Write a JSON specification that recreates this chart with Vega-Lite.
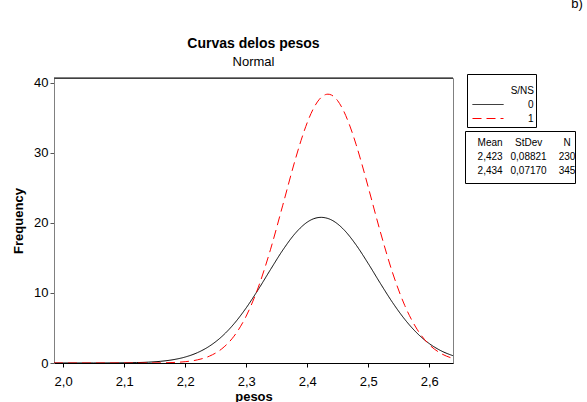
{
  "$schema": "https://vega.github.io/schema/vega-lite/v6.json",
  "padding": {"left": 12, "top": -2, "right": 0, "bottom": 0},
  "title": {"text": "b)", "anchor": "end", "frame": "bounds", "fontSize": 13, "fontWeight": "normal", "offset": 25, "dx": 7, "color": "black"},
  "datasets": {
    "curves": [
      {"SNS": "0", "pesos": 1.985, "Frequency": 0.0001},
      {"SNS": "0", "pesos": 2.0, "Frequency": 0.0002},
      {"SNS": "0", "pesos": 2.05, "Frequency": 0.0027},
      {"SNS": "0", "pesos": 2.1, "Frequency": 0.0255},
      {"SNS": "0", "pesos": 2.12, "Frequency": 0.057},
      {"SNS": "0", "pesos": 2.14, "Frequency": 0.121},
      {"SNS": "0", "pesos": 2.16, "Frequency": 0.244},
      {"SNS": "0", "pesos": 2.18, "Frequency": 0.468},
      {"SNS": "0", "pesos": 2.2, "Frequency": 0.851},
      {"SNS": "0", "pesos": 2.22, "Frequency": 1.473},
      {"SNS": "0", "pesos": 2.24, "Frequency": 2.418},
      {"SNS": "0", "pesos": 2.26, "Frequency": 3.771},
      {"SNS": "0", "pesos": 2.28, "Frequency": 5.591},
      {"SNS": "0", "pesos": 2.3, "Frequency": 7.869},
      {"SNS": "0", "pesos": 2.32, "Frequency": 10.52},
      {"SNS": "0", "pesos": 2.34, "Frequency": 13.36},
      {"SNS": "0", "pesos": 2.36, "Frequency": 16.12},
      {"SNS": "0", "pesos": 2.38, "Frequency": 18.47},
      {"SNS": "0", "pesos": 2.39, "Frequency": 19.39},
      {"SNS": "0", "pesos": 2.4, "Frequency": 20.11},
      {"SNS": "0", "pesos": 2.41, "Frequency": 20.58},
      {"SNS": "0", "pesos": 2.423, "Frequency": 20.8},
      {"SNS": "0", "pesos": 2.43, "Frequency": 20.73},
      {"SNS": "0", "pesos": 2.44, "Frequency": 20.42},
      {"SNS": "0", "pesos": 2.45, "Frequency": 19.85},
      {"SNS": "0", "pesos": 2.46, "Frequency": 19.05},
      {"SNS": "0", "pesos": 2.48, "Frequency": 16.88},
      {"SNS": "0", "pesos": 2.5, "Frequency": 14.21},
      {"SNS": "0", "pesos": 2.52, "Frequency": 11.36},
      {"SNS": "0", "pesos": 2.54, "Frequency": 8.63},
      {"SNS": "0", "pesos": 2.56, "Frequency": 6.23},
      {"SNS": "0", "pesos": 2.58, "Frequency": 4.27},
      {"SNS": "0", "pesos": 2.6, "Frequency": 2.78},
      {"SNS": "0", "pesos": 2.62, "Frequency": 1.72},
      {"SNS": "0", "pesos": 2.64, "Frequency": 1.01},
      {"SNS": "1", "pesos": 1.985, "Frequency": 0.0},
      {"SNS": "1", "pesos": 2.05, "Frequency": 0.0},
      {"SNS": "1", "pesos": 2.1, "Frequency": 0.0007},
      {"SNS": "1", "pesos": 2.14, "Frequency": 0.0086},
      {"SNS": "1", "pesos": 2.16, "Frequency": 0.026},
      {"SNS": "1", "pesos": 2.18, "Frequency": 0.072},
      {"SNS": "1", "pesos": 2.2, "Frequency": 0.187},
      {"SNS": "1", "pesos": 2.22, "Frequency": 0.447},
      {"SNS": "1", "pesos": 2.24, "Frequency": 0.987},
      {"SNS": "1", "pesos": 2.26, "Frequency": 2.02},
      {"SNS": "1", "pesos": 2.28, "Frequency": 3.824},
      {"SNS": "1", "pesos": 2.3, "Frequency": 6.696},
      {"SNS": "1", "pesos": 2.32, "Frequency": 10.85},
      {"SNS": "1", "pesos": 2.34, "Frequency": 16.25},
      {"SNS": "1", "pesos": 2.36, "Frequency": 22.54},
      {"SNS": "1", "pesos": 2.38, "Frequency": 28.91},
      {"SNS": "1", "pesos": 2.39, "Frequency": 31.8},
      {"SNS": "1", "pesos": 2.4, "Frequency": 34.31},
      {"SNS": "1", "pesos": 2.41, "Frequency": 36.3},
      {"SNS": "1", "pesos": 2.42, "Frequency": 37.66},
      {"SNS": "1", "pesos": 2.43, "Frequency": 38.33},
      {"SNS": "1", "pesos": 2.434, "Frequency": 38.39},
      {"SNS": "1", "pesos": 2.44, "Frequency": 38.26},
      {"SNS": "1", "pesos": 2.45, "Frequency": 37.45},
      {"SNS": "1", "pesos": 2.46, "Frequency": 35.95},
      {"SNS": "1", "pesos": 2.47, "Frequency": 33.84},
      {"SNS": "1", "pesos": 2.48, "Frequency": 31.25},
      {"SNS": "1", "pesos": 2.49, "Frequency": 28.3},
      {"SNS": "1", "pesos": 2.5, "Frequency": 25.13},
      {"SNS": "1", "pesos": 2.52, "Frequency": 18.7},
      {"SNS": "1", "pesos": 2.54, "Frequency": 12.87},
      {"SNS": "1", "pesos": 2.56, "Frequency": 8.2},
      {"SNS": "1", "pesos": 2.58, "Frequency": 4.83},
      {"SNS": "1", "pesos": 2.6, "Frequency": 2.63},
      {"SNS": "1", "pesos": 2.62, "Frequency": 1.33},
      {"SNS": "1", "pesos": 2.64, "Frequency": 0.62}
    ],
    "stats": [
      {"SNS": "0", "Mean": 2.423, "StDev": 0.08821, "N": 230},
      {"SNS": "1", "Mean": 2.434, "StDev": 0.0717, "N": 345}
    ]
  },
  "hconcat": [
    {
      "width": 399,
      "height": 285,
      "title": {"text": "Curvas delos pesos", "subtitle": "Normal", "anchor": "middle", "fontSize": 14, "fontWeight": "bold", "subtitleFontSize": 13, "subtitlePadding": 5, "offset": 8, "color": "black", "subtitleColor": "black", "subtitleFont": "Liberation Sans"},
      "view": {"stroke": "#808080"},
      "layer": [
        {
          "data": {"name": "curves"},
          "mark": {"type": "line", "interpolate": "monotone", "strokeWidth": 1, "clip": true},
          "encoding": {
            "x": {"field": "pesos", "type": "quantitative", "scale": {"domain": [1.985, 2.639], "nice": false, "zero": false},
                  "axis": {"title": "pesos", "values": [2.0, 2.1, 2.2, 2.3, 2.4, 2.5, 2.6], "format": ".1f", "labelExpr": "replace(format(datum.value, '.1f'), '.', ',')", "tickSize": 4, "labelPadding": 8, "titlePadding": 2, "domainColor": "black", "tickColor": "black", "labelFlush": false}},
            "y": {"field": "Frequency", "type": "quantitative", "scale": {"domain": [0, 40.7], "nice": false},
                  "axis": {"title": "Frequency", "values": [0, 10, 20, 30, 40], "tickSize": 4, "labelPadding": 2, "titlePadding": 8, "domainColor": "#808080", "tickColor": "#555555", "labelFlush": false}},
            "color": {"field": "SNS", "type": "nominal", "scale": {"domain": ["0", "1"], "range": ["#000000", "#ff0000"]},
                      "legend": {"title": ["", "S/NS"], "orient": "none", "legendX": 413, "legendY": -4}},
            "strokeDash": {"field": "SNS", "type": "nominal", "scale": {"domain": ["0", "1"], "range": [[1, 0], [9, 5]]},
                      "legend": {"title": ["", "S/NS"], "orient": "none", "legendX": 413, "legendY": -4}}
          }
        },
        {
          "data": {"values": [{}]},
          "mark": {"type": "rule", "color": "black", "strokeWidth": 1},
          "encoding": {"y": {"datum": 40.7, "type": "quantitative"}}
        }
      ]
    },
    {
      "spacing": 0,
      "vconcat": [
        {"width": 110, "height": 52, "view": {"stroke": null}, "data": {"values": []}, "mark": "point"},
        {
          "width": 110,
          "height": 52,
          "view": {"stroke": "black"},
          "layer": [
            {
              "data": {"values": [{"col": "Mean"}, {"col": "StDev"}, {"col": "N"}]},
              "mark": {"type": "text", "fontSize": 10, "baseline": "middle", "color": "black"},
              "encoding": {
                "x": {"field": "col", "type": "nominal", "scale": {"type": "point", "domain": ["Mean", "StDev", "N"], "padding": 0.4286, "align": 0.76}, "axis": null},
                "y": {"datum": "h", "type": "nominal", "scale": {"type": "point", "domain": ["h", "0", "1"], "padding": 0.9}, "axis": null},
                "text": {"field": "col"}
              }
            },
            {
              "data": {"name": "stats"},
              "mark": {"type": "text", "fontSize": 10, "baseline": "middle", "color": "black"},
              "encoding": {
                "x": {"datum": "Mean", "type": "nominal"},
                "y": {"field": "SNS", "type": "nominal"},
                "text": {"field": "Mean", "type": "quantitative", "format": ".3f"}
              }
            },
            {
              "data": {"name": "stats"},
              "mark": {"type": "text", "fontSize": 10, "baseline": "middle", "color": "black"},
              "encoding": {
                "x": {"datum": "StDev", "type": "nominal"},
                "y": {"field": "SNS", "type": "nominal"},
                "text": {"field": "StDev", "type": "quantitative", "format": ".5f"}
              }
            },
            {
              "data": {"name": "stats"},
              "mark": {"type": "text", "fontSize": 10, "baseline": "middle", "color": "black"},
              "encoding": {
                "x": {"datum": "N", "type": "nominal"},
                "y": {"field": "SNS", "type": "nominal"},
                "text": {"field": "N", "type": "quantitative", "format": "d"}
              }
            }
          ]
        }
      ]
    }
  ],
  "spacing": 12,
  "bounds": "flush",
  "config": {
    "font": "Liberation Sans",
    "locale": {"number": {"decimal": ",", "thousands": ".", "grouping": [3], "currency": ["", " €"]}},
    "axis": {"grid": false, "labelFontSize": 13, "titleFontSize": 13, "titleFontWeight": "bold", "labelColor": "black", "titleColor": "black"},
    "legend": {
      "strokeColor": "black", "fillColor": "white", "padding": 2,
      "symbolType": "stroke", "symbolSize": 961, "symbolStrokeWidth": 1, "symbolOffset": 3,
      "clipHeight": 12, "rowPadding": 2, "labelOffset": 24, "labelFontSize": 10, "labelColor": "black",
      "titleFontSize": 10, "titleFontWeight": "normal", "titleColor": "black", "titleAnchor": "end", "titleLineHeight": 9.5, "titlePadding": 3
    }
  }
}
